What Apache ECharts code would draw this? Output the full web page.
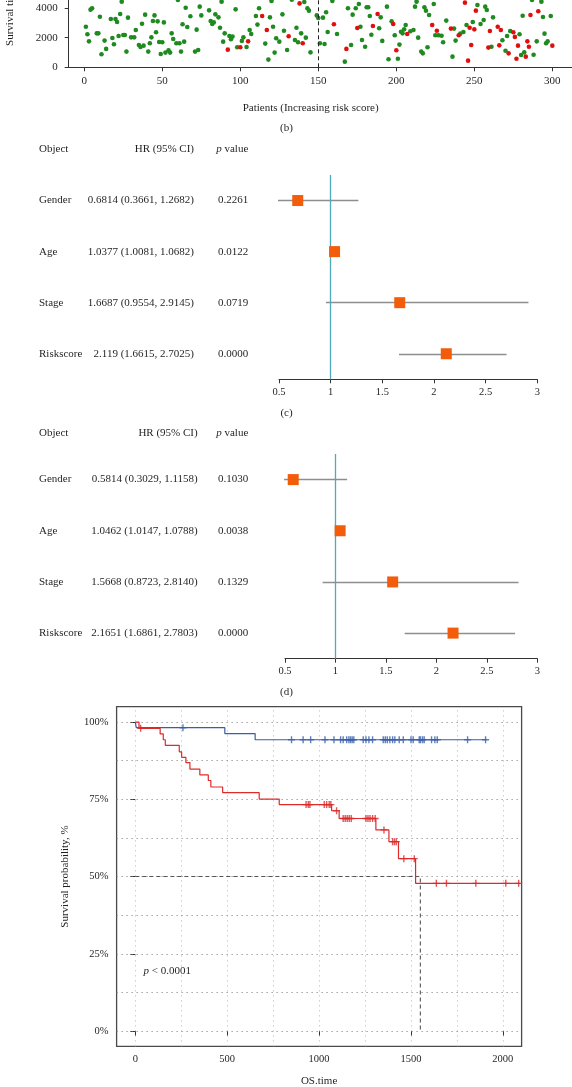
<!DOCTYPE html>
<html><head><meta charset="utf-8">
<script src="https://cdn.jsdelivr.net/npm/echarts@6/dist/echarts.min.js"></script>
<style>html,body{margin:0;padding:0;background:#fff;}#c{width:572px;height:1087px;}</style>
</head><body><div id="c"></div>
<script>
// ---------- (b) risk-score scatter ----------
const patientRank = [1,2,3,4,5,8,9,10,11,13,14,17,18,19,20,21,22,23,24,25,26,27,28,30,32,33,35,36,37,38,39,41,42,43,44,45,46,47,48,49,50,51,52,54,55,56,57,59,60,61,62,63,64,65,66,68,71,72,73,74,75,80,81,82,83,84,86,87,88,89,90,92,93,94,95,97,98,100,101,102,104,105,106,107,110,111,112,114,116,117,118,119,120,121,122,123,125,127,128,130,131,133,135,136,137,138,139,140,141,142,143,144,145,149,150,151,153,154,155,156,159,160,162,167,168,169,171,172,174,175,176,177,178,180,181,182,183,184,185,188,189,190,191,194,195,197,198,199,200,201,202,203,204,205,206,207,209,211,212,213,214,216,217,218,219,220,221,223,224,225,226,227,229,230,232,235,236,237,238,240,241,243,244,245,246,247,248,249,250,251,252,254,256,257,258,259,260,261,262,265,266,267,268,270,271,272,273,275,276,277,278,279,280,281,282,283,284,285,286,287,288,290,291,293,294,295,296,297,299,300];
const survivalTime = [2740,2230,1750,3890,3980,2290,2290,3410,880,1800,1240,3260,1980,1550,3260,3060,2110,3600,4430,2180,2180,1060,3350,2020,2020,2520,1500,1370,2940,1460,3550,1060,1620,2020,3120,3500,2360,3100,1710,900,1690,3030,990,1150,990,2290,1910,1620,4540,1620,1060,2900,1730,4020,2720,3440,1060,2540,1170,4090,3500,3840,3120,2920,3030,3570,3370,2670,4430,1730,2290,1190,2110,1890,2070,3910,1350,1350,1780,2020,1370,1750,2520,2250,3460,2880,3980,3460,1600,2520,520,3370,4470,2740,990,1960,1730,3570,2470,1170,2090,4560,1840,2670,1690,4310,2290,1620,4400,2000,3980,3820,1010,3500,3330,1620,3350,1570,3710,2380,4470,2900,2250,380,1240,3980,1500,3550,3980,2650,4270,2740,1840,1390,4050,4050,3460,2200,2790,3600,2630,3370,1780,4090,540,3100,2920,2160,1150,580,1530,2400,2290,2560,2850,2250,2430,2520,4090,4430,2000,1060,940,4050,3820,1350,3530,2850,4270,2160,2470,2160,2130,1690,3150,2610,720,2610,1800,2160,2270,2380,4360,2850,450,2670,1500,3060,2560,3820,4200,2920,3190,4090,3870,1330,2450,1390,3370,2740,1480,2520,1820,1120,2110,940,2450,2360,2050,580,1460,2230,830,3480,1010,720,1750,1390,3530,4540,850,1750,3780,4430,3390,2270,1620,1750,3460,1460];
const deathStatus = [0,0,0,0,0,0,0,0,0,0,0,0,0,0,0,0,0,0,0,0,0,0,0,0,0,0,0,0,0,0,0,0,0,0,0,0,0,0,0,0,0,0,0,0,0,0,0,0,0,0,0,0,0,0,0,0,0,0,0,0,0,0,0,0,0,0,0,0,0,0,0,1,0,0,0,0,0,1,0,0,0,1,0,0,0,0,0,1,0,1,0,0,0,0,0,0,0,0,0,0,1,0,0,0,0,1,0,1,0,0,0,0,0,0,0,0,0,0,0,0,0,1,0,0,1,0,0,0,0,1,0,0,0,0,0,0,0,0,1,1,0,0,0,0,0,0,1,0,1,0,0,0,0,0,0,1,0,0,0,0,0,0,0,0,0,0,0,1,0,0,1,0,0,0,0,1,0,0,0,1,0,0,1,0,1,1,1,0,1,1,0,0,0,0,0,1,1,0,0,1,1,1,0,0,0,1,0,1,1,1,1,0,0,0,0,1,1,1,1,0,0,0,1,0,0,0,0,0,0,1,1];
const rankTicks = [0,50,100,150,200,250,300];
const timeTicks = [0,2000,4000];
const splitRank = 150;

// ---------- (c) univariate / (d) multivariate Cox ----------
const objects = ['Gender','Age','Stage','Riskscore'];
const hrC = [0.6814,1.0377,1.6687,2.119];
const lowC = [0.3661,1.0081,0.9554,1.6615];
const highC = [1.2682,1.0682,2.9145,2.7025];
const hrTextC = ['0.6814 (0.3661, 1.2682)','1.0377 (1.0081, 1.0682)','1.6687 (0.9554, 2.9145)','2.119 (1.6615, 2.7025)'];
const pC = ['0.2261','0.0122','0.0719','0.0000'];
const hrD = [0.5814,1.0462,1.5668,2.1651];
const lowD = [0.3029,1.0147,0.8723,1.6861];
const highD = [1.1158,1.0788,2.8140,2.7803];
const hrTextD = ['0.5814 (0.3029, 1.1158)','1.0462 (1.0147, 1.0788)','1.5668 (0.8723, 2.8140)','2.1651 (1.6861, 2.7803)'];
const pD = ['0.1030','0.0038','0.1329','0.0000'];
const hrTicks = [0.5,1,1.5,2,2.5,3];

// ---------- (e) Kaplan-Meier ----------
const lowRiskTime = [0,5,487,652,1911];
const lowRiskSurv = [100,98.2,96.3,94.3,94.3];
const lowRiskCensor = [259,850,913,954,1032,1081,1117,1131,1150,1162,1171,1180,1189,1240,1255,1271,1291,1349,1360,1371,1385,1400,1412,1436,1458,1500,1512,1545,1552,1563,1572,1612,1630,1643,1808,1906];
const highRiskTime = [0,20,135,152,163,239,252,275,297,351,397,411,475,674,783,1068,1109,1309,1380,1432,1525,2095];
const highRiskSurv = [100,98.0,96.2,94.3,92.5,90.4,88.6,86.9,84.8,82.9,81.1,79.0,77.2,75.1,73.3,71.3,68.8,65.1,61.3,55.8,47.8,47.8];
const highRiskCensor = [29,929,941,950,1028,1041,1055,1064,1095,1131,1142,1153,1164,1175,1255,1266,1277,1291,1305,1353,1400,1410,1420,1461,1518,1638,1693,1853,2016,2086];
const medianTime = 1551;
const osTicks = [0,500,1000,1500,2000];
const osMinor = [0,250,500,750,1000,1250,1500,1750,2000];
const survTicks = [0,25,50,75,100];
const survMinor = [0,12.5,25,37.5,50,62.5,75,87.5,100];

// ---------- styling ----------
const FONT = 'Liberation Serif';
const TXT = '#231f20';
const GREEN = '#1f8a1f', RED = '#e10e0e';
const ORANGE = '#f25c0a', TEAL = '#4fa9ba', CIGRAY = '#8e8e8e';
const BLUE = '#3a5ea8', KMRED = '#dc2b2b';
const PLUS = 'path://M4,0h2v4h4v2h-4v4h-2v-4h-4v-2h4z';

const chart = echarts.init(document.getElementById('c'), null, {renderer:'canvas'});

function levelAt(times, surv, t){ let s = surv[0]; for (let i=0;i<times.length;i++){ if (times[i] <= t) s = surv[i]; } return s; }

const alive = [], dead = [];
patientRank.forEach((r,i)=>{ (deathStatus[i] ? dead : alive).push([r, survivalTime[i]]); });

const lab = (extra)=>Object.assign({fontFamily:FONT,fontSize:11,color:TXT}, extra||{});
const plain = v=>String(v);
const rowY = (i)=>objects.length - i;

function forestAxes(gi){
  return {
    x: {type:'value', gridIndex:gi, min:0.5, max:3, interval:0.5,
        axisLine:{show:true,lineStyle:{color:'#333',width:1}},
        axisTick:{show:true,length:4,customValues:hrTicks,lineStyle:{color:'#333'}},
        axisLabel:lab({margin:7,fontSize:10.5,customValues:hrTicks,formatter:plain}),
        splitLine:{show:false}},
    y: {type:'value', gridIndex:gi, min:0.5, max:4.5, show:false}
  };
}
const fc = forestAxes(1), fd = forestAxes(2);

function forestSeries(gi, hr, lo, hi){
  return [
    {type:'lines', coordinateSystem:'cartesian2d', xAxisIndex:gi, yAxisIndex:gi, z:2,
     lineStyle:{color:CIGRAY,width:1.3,opacity:1}, symbol:['none','none'],
     data: hr.map((h,i)=>({coords:[[lo[i],rowY(i)],[hi[i],rowY(i)]]})),
     markLine:{silent:true, symbol:['none','none'], label:{show:false}, z:3,
       lineStyle:{color:TEAL,width:1.3,type:'solid'}, data:[{xAxis:1}]}},
    {type:'scatter', xAxisIndex:gi, yAxisIndex:gi, z:4, symbol:'rect', symbolSize:11,
     itemStyle:{color:ORANGE, opacity:1}, data: hr.map((h,i)=>[h,rowY(i)])}
  ];
}

const option = {
  animation:false,
  backgroundColor:'#fff',
  textStyle:{fontFamily:FONT},
  grid:[
    {left:68.7, top:-51.3, width:503.9, height:118.6, show:false, outerBoundsMode:'none', containLabel:false},
    {left:279, top:175, width:258.3, height:204.3, show:false, outerBoundsMode:'none', containLabel:false},
    {left:285, top:454, width:252.3, height:204.7, show:false, outerBoundsMode:'none', containLabel:false},
    {left:116.6, top:706.7, width:405, height:339.7, show:true, borderColor:'#4a4a4a', borderWidth:1.3, outerBoundsMode:'none', containLabel:false}
  ],
  xAxis:[
    {type:'value', gridIndex:0, min:-10, max:313,
     axisLine:{show:true,onZero:false,lineStyle:{color:'#333',width:1}},
     axisTick:{show:true,length:4,customValues:rankTicks,lineStyle:{color:'#333'}},
     axisLabel:lab({margin:8,fontSize:11,customValues:rankTicks,formatter:plain}),
     splitLine:{show:false},
     name:'Patients (Increasing risk score)', nameLocation:'middle', nameGap:35,
     nameTextStyle:lab({fontSize:11,padding:[0,20,0,0]})},
    fc.x, fd.x,
    {type:'value', gridIndex:3, min:-102, max:2102,
     axisLine:{show:false},
     axisTick:{show:true,length:5,customValues:osTicks,lineStyle:{color:'#333'}},
     axisLabel:lab({margin:7,fontSize:10.5,customValues:osTicks,formatter:plain}),
     splitLine:{show:false},
     name:'OS.time', nameLocation:'middle', nameGap:29, nameTextStyle:lab({fontSize:11})}
  ],
  yAxis:[
    {type:'value', gridIndex:0, min:0, max:8000,
     axisLine:{show:true,onZero:false,lineStyle:{color:'#333',width:1}},
     axisTick:{show:true,length:4,customValues:timeTicks,lineStyle:{color:'#333'}},
     axisLabel:lab({margin:11,fontSize:11,customValues:timeTicks,formatter:plain}),
     splitLine:{show:false},
     name:'Survival time (days)', nameLocation:'middle', nameGap:53, nameTextStyle:lab({fontSize:11,padding:[0,0,0,14]})},
    fc.y, fd.y,
    {type:'value', gridIndex:3, min:-5, max:105,
     axisLine:{show:false},
     axisTick:{show:true,length:5,customValues:survTicks,lineStyle:{color:'#333'}},
     axisLabel:lab({margin:8,fontSize:10.5,customValues:survTicks,formatter:v=>v+'%'}),
     splitLine:{show:false},
     name:'Survival probability, %', nameLocation:'middle', nameGap:46, nameTextStyle:lab({fontSize:11})}
  ],
  series:[
    {type:'scatter', xAxisIndex:0, yAxisIndex:0, symbolSize:4.6, itemStyle:{color:GREEN,opacity:1}, data:alive, z:2},
    {type:'scatter', xAxisIndex:0, yAxisIndex:0, symbolSize:4.6, itemStyle:{color:RED,opacity:1}, data:dead, z:3,
     markLine:{silent:true, symbol:['none','none'], label:{show:false},
       lineStyle:{color:'#222',width:1,type:[4,3]}, data:[{xAxis:splitRank}]}},
    ...forestSeries(1, hrC, lowC, highC),
    ...forestSeries(2, hrD, lowD, highD),
    {type:'line', xAxisIndex:3, yAxisIndex:3, z:3, symbol:'none', silent:true,
     lineStyle:{color:'#555',width:1.1,type:[4,3]},
     data:[[0,50],[medianTime,50],[medianTime,0]],
     markLine:{silent:true, symbol:['none','none'], label:{show:false}, z:1,
       data:[
         ...osMinor.map(v=>({xAxis:v, lineStyle:{color:'#b5b5b5',width:1,type:[1,4]}})),
         ...survMinor.map(v=>({yAxis:v, lineStyle:{color:'#777',width:1,type:[1,4]}}))
       ]}},
    {type:'line', xAxisIndex:3, yAxisIndex:3, z:4, step:'end', symbol:'none',
     lineStyle:{color:BLUE,width:1.2}, data: lowRiskTime.map((t,i)=>[t,lowRiskSurv[i]])},
    {type:'line', xAxisIndex:3, yAxisIndex:3, z:4, step:'end', symbol:'none',
     lineStyle:{color:KMRED,width:1.2}, data: highRiskTime.map((t,i)=>[t,highRiskSurv[i]])},
    {type:'scatter', xAxisIndex:3, yAxisIndex:3, z:5, symbol:PLUS, symbolSize:7,
     itemStyle:{color:BLUE}, data: lowRiskCensor.map(t=>[t, levelAt(lowRiskTime, lowRiskSurv, t)])},
    {type:'scatter', xAxisIndex:3, yAxisIndex:3, z:5, symbol:PLUS, symbolSize:7,
     itemStyle:{color:KMRED}, data: highRiskCensor.map(t=>[t, levelAt(highRiskTime, highRiskSurv, t)])}
  ]
};
chart.setOption(option);

// ---------- text elements positioned through the axes ----------
const g = [];
const txt = (x,y,text,align)=>g.push({type:'text', x, y, silent:true,
  style:{text, fill:TXT, font:'11px "'+FONT+'"', align:align||'left', verticalAlign:'middle'}});
const richP = {i:{fontStyle:'italic',fontFamily:FONT,fontSize:11,fill:TXT}, n:{fontFamily:FONT,fontSize:11,fill:TXT}};

function table(gi, hrText, pvals, hrRight, headerOffset){
  const top = chart.convertToPixel({gridIndex:gi}, [1, 4.5])[1];
  const hy = top - headerOffset;
  txt(39, hy, 'Object');
  txt(hrRight, hy, 'HR (95% CI)', 'right');
  g.push({type:'text', x:248.3, y:hy, silent:true, style:{text:'{i|p}{n| value}', rich:richP, align:'right', verticalAlign:'middle'}});
  objects.forEach((o,i)=>{
    const y = chart.convertToPixel({gridIndex:gi}, [1, rowY(i)])[1];
    txt(39, y, o);
    txt(hrRight, y, hrText[i], 'right');
    txt(248.3, y, pvals[i], 'right');
  });
}
table(1, hrTextC, pC, 194, 25.5);
table(2, hrTextD, pD, 197.7, 21);

txt(286.5, 128, '(b)', 'center');
txt(286.5, 413, '(c)', 'center');
txt(286.5, 692.3, '(d)', 'center');

const pp = chart.convertToPixel({gridIndex:3}, [45, 19.4]);
g.push({type:'text', x:pp[0], y:pp[1], silent:true, style:{text:'{i|p}{n| < 0.0001}', rich:richP, align:'left', verticalAlign:'middle'}});

chart.setOption({graphic:g});
</script></body></html>
